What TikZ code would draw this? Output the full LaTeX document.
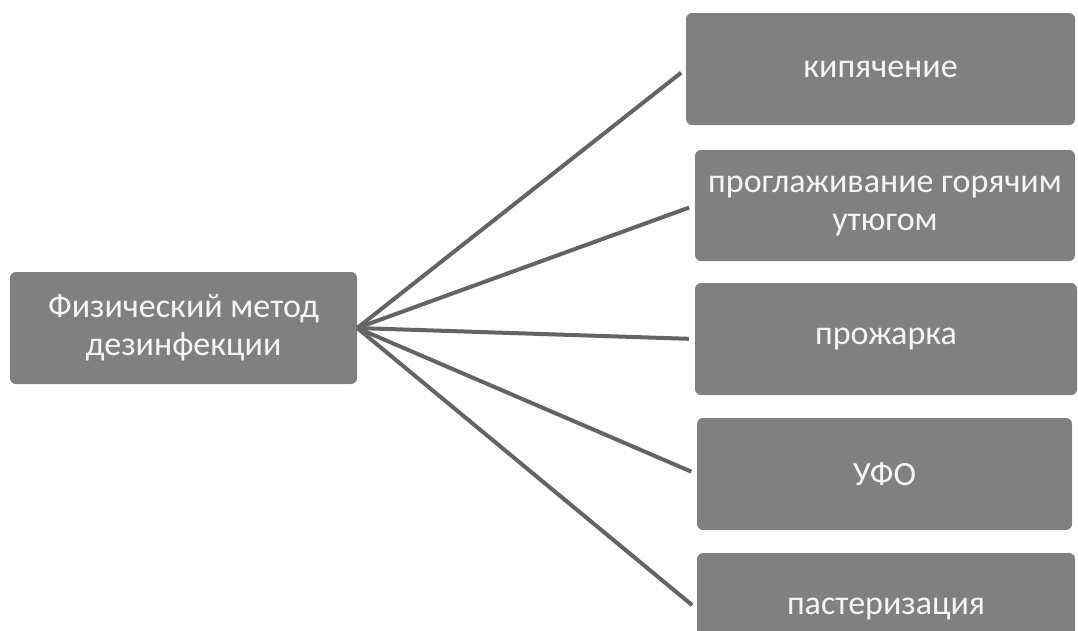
\documentclass[tikz,border=0pt]{standalone}
\usepackage{fontspec}
\setmainfont{Carlito}
\definecolor{boxgrey}{RGB}{128,128,128}
\definecolor{linegrey}{RGB}{100,100,100}
\definecolor{textwhite}{RGB}{245,245,245}
\tikzset{every picture/.style={/utils/exec={\fontsize{34}{38}\selectfont}}}
\tikzset{
  methodbox/.style={fill=boxgrey, rounded corners=6pt, text=textwhite, align=center, inner sep=0pt},
  branch/.style={draw=linegrey, line width=4pt, shorten >=6pt}
}

\begin{document}
\begin{tikzpicture}[x=1pt, y=-1pt]

  \clip (0,0) rectangle (1078,630);
  \fill [white] (0,0) rectangle (1078,630);

  % main method
  \node [methodbox, minimum width=347pt, minimum height=112pt] (phys) at (183.5,328) {Физический метод\\дезинфекции};

  % kinds
  \node [methodbox, minimum width=389pt, minimum height=112pt] (boil) at (880.5,69) {кипячение};
  \node [methodbox, minimum width=380pt, minimum height=111pt] (iron) at (885,205.5) {проглаживание горячим\\утюгом};
  \node [methodbox, minimum width=382pt, minimum height=112pt] (roast) at (886,339) {прожарка};
  \node [methodbox, minimum width=375pt, minimum height=112pt] (ufo) at (884.5,474) {УФО};
  \node [methodbox, minimum width=378pt, minimum height=112pt] (past) at (886,609) {пастеризация};

  \foreach \n in {boil,iron,roast,ufo,past} \draw [branch] (phys.east) -- (\n.west);

\end{tikzpicture}
\end{document}
